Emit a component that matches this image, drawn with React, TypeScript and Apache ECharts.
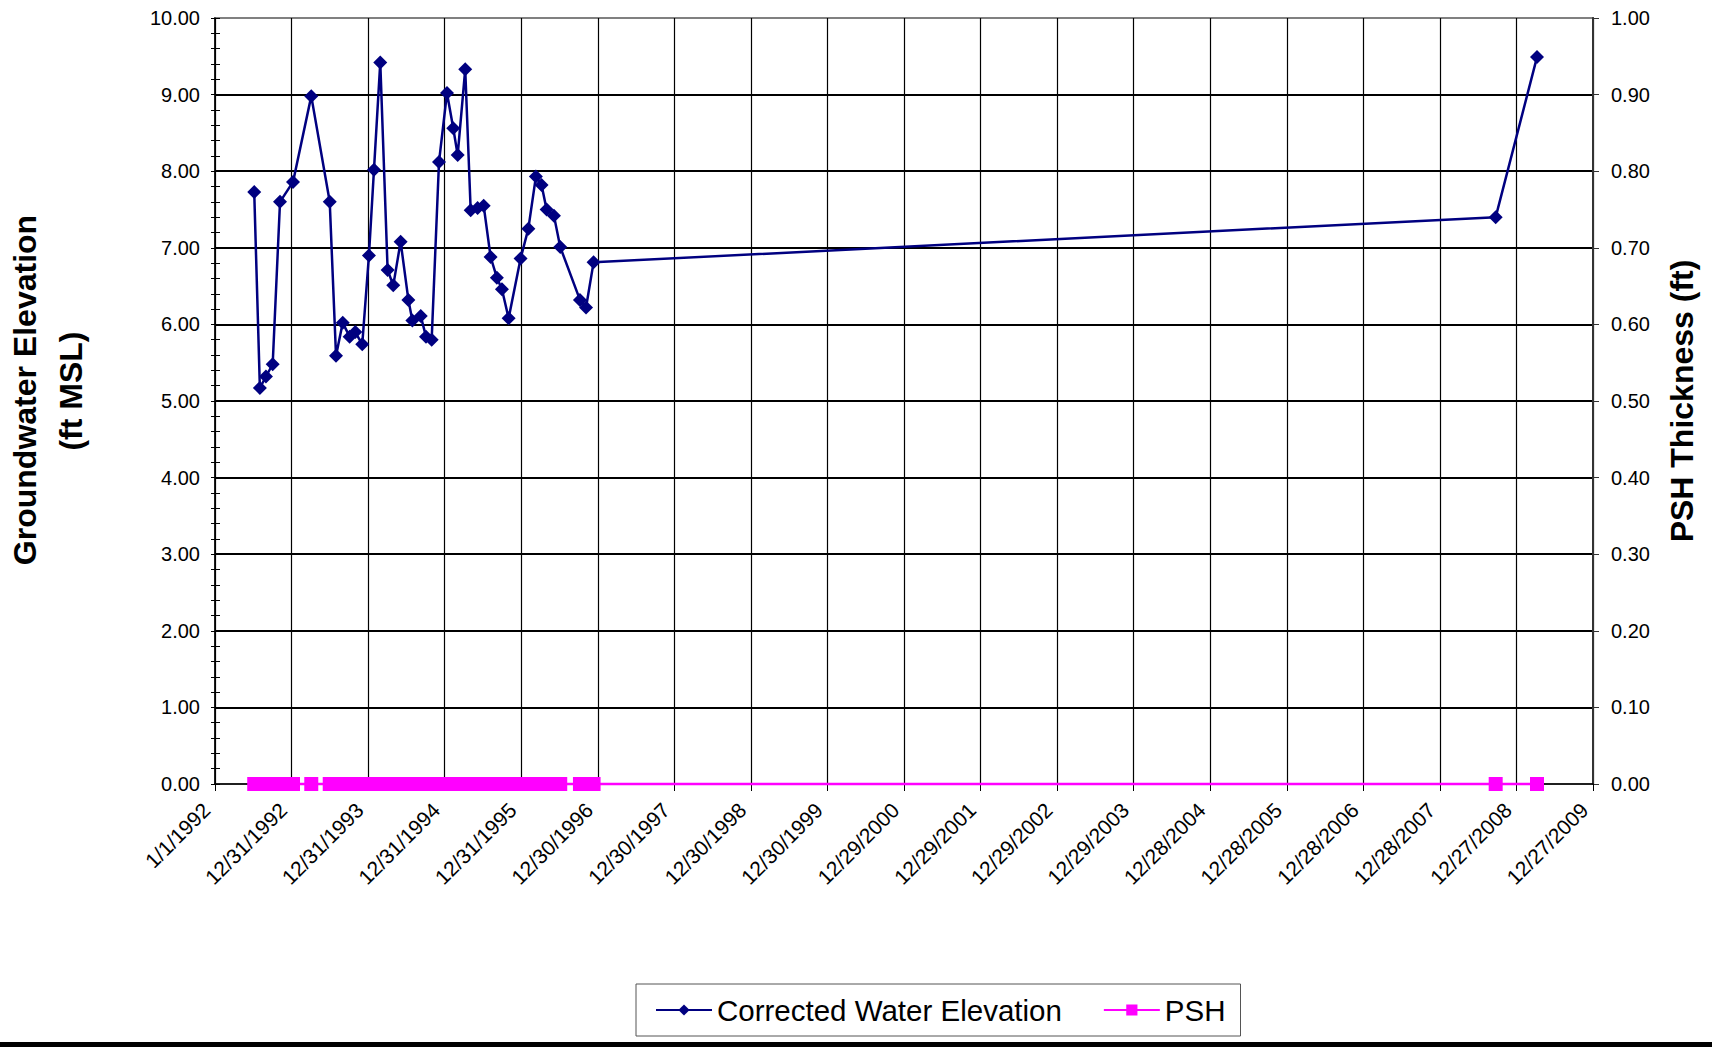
import React, { useEffect, useRef } from "react";
import * as echarts from "echarts";

// ---- data ----
const AXIS_START = "1992-01-01";
const X_INTERVAL_DAYS = 365;
const X_INTERVAL_COUNT = 18;

const sampleDates = [
  "1992-07-06", "1992-08-02", "1992-08-31", "1992-10-02", "1992-11-06",
  "1993-01-07", "1993-04-04", "1993-07-01", "1993-07-31", "1993-09-01",
  "1993-10-04", "1993-10-31", "1993-12-03", "1994-01-04", "1994-01-28",
  "1994-02-27", "1994-04-03", "1994-04-30", "1994-06-04", "1994-07-11",
  "1994-07-30", "1994-09-08", "1994-10-03", "1994-10-30", "1994-12-04",
  "1995-01-11", "1995-02-10", "1995-03-03", "1995-04-08", "1995-05-04",
  "1995-06-06", "1995-07-05", "1995-08-07", "1995-09-06", "1995-09-30",
  "1995-11-01", "1995-12-28", "1996-02-03", "1996-03-10", "1996-04-06",
  "1996-04-30", "1996-06-04", "1996-07-04", "1996-10-06", "1996-11-04",
  "1996-12-10", "2008-09-19", "2009-04-04",
];

const correctedWaterElevation = [
  7.73, 5.17, 5.32, 5.48, 7.6,
  7.86, 8.98, 7.6, 5.59, 6.02,
  5.84, 5.9, 5.74, 6.9, 8.02,
  9.42, 6.71, 6.51, 7.08, 6.32,
  6.05, 6.11, 5.84, 5.8, 8.12,
  9.02, 8.56, 8.21, 9.33, 7.49,
  7.52, 7.55, 6.88, 6.61, 6.46,
  6.08, 6.86, 7.25, 7.93, 7.82,
  7.5, 7.42, 7.01, 6.32, 6.22,
  6.81, 7.4, 9.49,
];

const pshThickness = [
  0, 0, 0, 0, 0,
  0, 0, 0, 0, 0,
  0, 0, 0, 0, 0,
  0, 0, 0, 0, 0,
  0, 0, 0, 0, 0,
  0, 0, 0, 0, 0,
  0, 0, 0, 0, 0,
  0, 0, 0, 0, 0,
  0, 0, 0, 0, 0,
  0, 0, 0,
];

const leftAxisTitle = ["Groundwater Elevation", "(ft MSL)"];
const rightAxisTitle = "PSH Thickness (ft)";
const seriesNames = ["Corrected Water Elevation", "PSH"];

const FONT = '"Liberation Sans", Arial, Helvetica, sans-serif';
const DAY_MS = 86400000;

function toUTC(s: string) {
  const [y, m, d] = s.split("-").map(Number);
  return Date.UTC(y, m - 1, d);
}

const T0 = toUTC(AXIS_START);

function toDays(s: string) {
  return Math.round((toUTC(s) - T0) / DAY_MS);
}

function fmtDate(v: number) {
  const dt = new Date(T0 + Math.round(v) * DAY_MS);
  return `${dt.getUTCMonth() + 1}/${dt.getUTCDate()}/${dt.getUTCFullYear()}`;
}

export default function App() {
  const ref = useRef<HTMLDivElement>(null);

  useEffect(() => {
    if (!ref.current) return;
    const chart = echarts.init(ref.current, null, { renderer: "svg" });
    const xs = sampleDates.map(toDays);
    const waterData = xs.map((x, i) => [x, correctedWaterElevation[i]]);
    const pshData = xs.map((x, i) => [x, pshThickness[i]]);

    chart.setOption({
      animation: false,
      backgroundColor: "#ffffff",
      textStyle: { fontFamily: FONT },
      grid: {
        left: 215,
        top: 18,
        right: 119,
        bottom: 263,
        show: true,
        borderColor: "#808080",
        borderWidth: 2,
        backgroundColor: "transparent",
      },
      legend: {
        left: 636,
        top: 984,
        orient: "horizontal",
        itemWidth: 56,
        itemHeight: 14,
        itemGap: 41,
        padding: [11, 15, 11, 19],
        borderColor: "#555555",
        borderWidth: 1,
        backgroundColor: "#ffffff",
        textStyle: { fontSize: 29.5, color: "#000", fontFamily: FONT },
        data: seriesNames,
      },
      xAxis: {
        type: "value",
        min: 0,
        max: X_INTERVAL_DAYS * X_INTERVAL_COUNT,
        interval: X_INTERVAL_DAYS,
        axisLine: { show: true, onZero: false, lineStyle: { color: "#000", width: 1.5 } },
        axisTick: { show: true, length: 7, lineStyle: { color: "#000", width: 1 } },
        axisLabel: {
          rotate: 45,
          margin: 14,
          padding: [0, 12, 0, 0],
          fontSize: 21,
          color: "#000",
          fontFamily: FONT,
          showMinLabel: true,
          showMaxLabel: true,
          formatter: (v: number) => fmtDate(v),
        },
        splitLine: { show: true, lineStyle: { color: "#000", width: 1.2 } },
      },
      yAxis: [
        {
          type: "value",
          min: 0,
          max: 10,
          interval: 1,
          position: "left",
          axisLine: { show: true, lineStyle: { color: "#000", width: 1.5 } },
          axisTick: { show: true, length: 4, lineStyle: { color: "#000", width: 1 } },
          minorTick: { show: true, splitNumber: 5, length: 4, lineStyle: { color: "#000", width: 1 } },
          axisLabel: {
            margin: 15,
            fontSize: 20,
            color: "#000",
            fontFamily: FONT,
            formatter: (v: number) => v.toFixed(2),
          },
          splitLine: {
            show: true,
            showMinLine: false,
            showMaxLine: false,
            lineStyle: { color: "#000", width: 2 },
          },
        },
        {
          type: "value",
          min: 0,
          max: 1,
          interval: 0.1,
          position: "right",
          axisLine: { show: true, lineStyle: { color: "#333", width: 2 } },
          axisTick: { show: true, length: 6, lineStyle: { color: "#333", width: 1 } },
          axisLabel: {
            margin: 18,
            fontSize: 20,
            color: "#000",
            fontFamily: FONT,
            formatter: (v: number) => v.toFixed(2),
          },
          splitLine: { show: false },
        },
        {
          type: "value",
          min: 0,
          max: 10,
          interval: 1,
          position: "left",
          axisLine: { show: false },
          axisTick: { show: true, inside: true, length: 5, lineStyle: { color: "#000", width: 1 } },
          minorTick: { show: true, splitNumber: 5, length: 5, lineStyle: { color: "#000", width: 1 } },
          axisLabel: { show: false },
          splitLine: { show: false },
        },
      ],
      series: [
        {
          name: seriesNames[0],
          type: "line",
          yAxisIndex: 0,
          data: waterData,
          color: "#000080",
          symbol: "diamond",
          symbolSize: 14,
          showAllSymbol: true,
          lineStyle: { color: "#000080", width: 2.5 },
          itemStyle: { color: "#000080" },
          clip: false,
          z: 3,
        },
        {
          name: seriesNames[1],
          type: "line",
          yAxisIndex: 1,
          data: pshData,
          color: "#ff00ff",
          symbol: "rect",
          symbolSize: 14,
          showAllSymbol: true,
          lineStyle: { color: "#ff00ff", width: 2.5 },
          itemStyle: { color: "#ff00ff" },
          clip: false,
          z: 4,
        },
      ],
      graphic: [
        {
          type: "text",
          x: 25,
          y: 390,
          rotation: Math.PI / 2,
          style: {
            text: leftAxisTitle[0],
            fontSize: 32,
            fontWeight: "bold",
            fontFamily: FONT,
            fill: "#000",
            align: "center",
            verticalAlign: "middle",
          },
        },
        {
          type: "text",
          x: 71,
          y: 391,
          rotation: Math.PI / 2,
          style: {
            text: leftAxisTitle[1],
            fontSize: 32,
            fontWeight: "bold",
            fontFamily: FONT,
            fill: "#000",
            align: "center",
            verticalAlign: "middle",
          },
        },
        {
          type: "text",
          x: 1682,
          y: 401,
          rotation: Math.PI / 2,
          style: {
            text: rightAxisTitle,
            fontSize: 32,
            fontWeight: "bold",
            fontFamily: FONT,
            fill: "#000",
            align: "center",
            verticalAlign: "middle",
          },
        },
        {
          type: "rect",
          shape: { x: 0, y: 1042, width: 1712, height: 5 },
          style: { fill: "#000" },
        },
      ],
    });

    return () => chart.dispose();
  }, []);

  return (
    <div
      ref={ref}
      style={{ position: "absolute", left: 0, top: 0, width: 1712, height: 1047, background: "#fff" }}
    />
  );
}
